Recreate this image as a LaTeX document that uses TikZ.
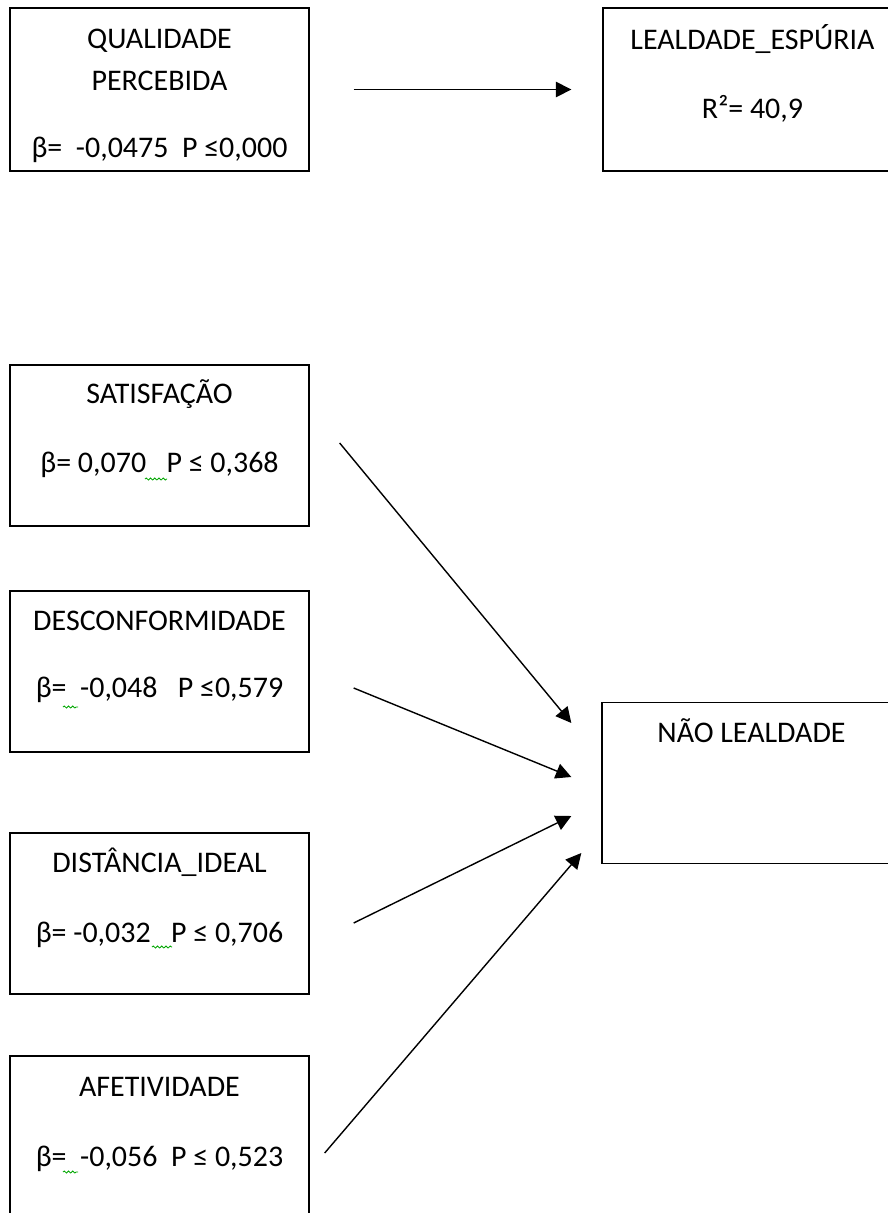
\documentclass[tikz,border=0pt]{standalone}
\usepackage{fontspec}
\setmainfont{Carlito}
\usetikzlibrary{arrows.meta,decorations.pathmorphing}
\begin{document}
\begin{tikzpicture}[x=0.025cm, y=-0.025cm,
    box/.style={draw, line width=0.9pt, minimum width=7.475cm, minimum height=4.025cm, inner sep=0pt},
    txt/.style={anchor=base, align=center, inner sep=0pt, font=\fontsize{21.3}{29.2}\selectfont},
    arrow/.style={-{Triangle[length=11pt, width=11pt]}, line width=1pt},
    wavy/.style={draw=green!65!black, line width=0.6pt, decorate, decoration={snake, amplitude=0.7pt, segment length=3pt}}]
    \clip (0,0) rectangle (888,1213);

    \node (qual) at (159.5,89.5) [box, minimum height=4.075cm] {};
    \node (leal) at (752.5,89.5) [box, minimum height=4.075cm] {};
    \node (satis) at (159.5,445.5) [box] {};
    \node (desc) at (159.5,671.5) [box] {};
    \node (dist) at (159.5,913.5) [box] {};
    \node (afet) at (159.5,1136.5) [box] {};
    \node (nao) at (751.5,783) [box] {};

    \node (qualname) at (159.5,90) [txt] {QUALIDADE\\PERCEBIDA};
    \node (qualbeta) at (159.5,157) [txt] {β=\ \ -0,0475\ \ P ≤0,000};
    \node (lealname) at (752.5,49) [txt] {LEALDADE\_ESPÚRIA};
    \node (lealr) at (752.5,118) [txt] {R²= 40,9};
    \node (satisname) at (159.5,403) [txt] {SATISFAÇÃO};
    \node (satisbeta) at (159.5,472) [txt] {β= 0,070\ \ \ P ≤ 0,368};
    \node (descname) at (159.5,630) [txt] {DESCONFORMIDADE};
    \node (descbeta) at (159.5,697) [txt] {β=\ \ -0,048\ \ \ P ≤0,579};
    \node (distname) at (159.5,872) [txt] {DISTÂNCIA\_IDEAL};
    \node (distbeta) at (159.5,942) [txt] {β= -0,032\ \ \ P ≤ 0,706};
    \node (afetname) at (159.5,1096) [txt] {AFETIVIDADE};
    \node (afetbeta) at (159.5,1166) [txt] {β=\ \ -0,056\ \ P ≤ 0,523};
    \node (naoname) at (751.5,742) [txt] {NÃO LEALDADE};

    \draw[arrow] ([shift={(44,0)}]qual.east) -- ([shift={(-31,0)}]leal.west);
    \draw[arrow] ([shift={(30,-2.5)}]satis.east) -- ([shift={(-30,-60)}]nao.west);
    \draw[arrow] ([shift={(44,16.5)}]desc.east) -- ([shift={(-30,-6)}]nao.west);
    \draw[arrow] ([shift={(44,9.5)}]dist.east) -- ([shift={(-30,33)}]nao.west);
    \draw[arrow] ([shift={(15,16.5)}]afet.east) -- ([shift={(-20,70)}]nao.west);

    % spell-check marks
    \draw[wavy] (145,479) -- (167,479);
    \draw[wavy] (63,707) -- (78,707);
    \draw[wavy] (152,947) -- (172,947);
    \draw[wavy] (63,1172) -- (78,1172);
\end{tikzpicture}
\end{document}
